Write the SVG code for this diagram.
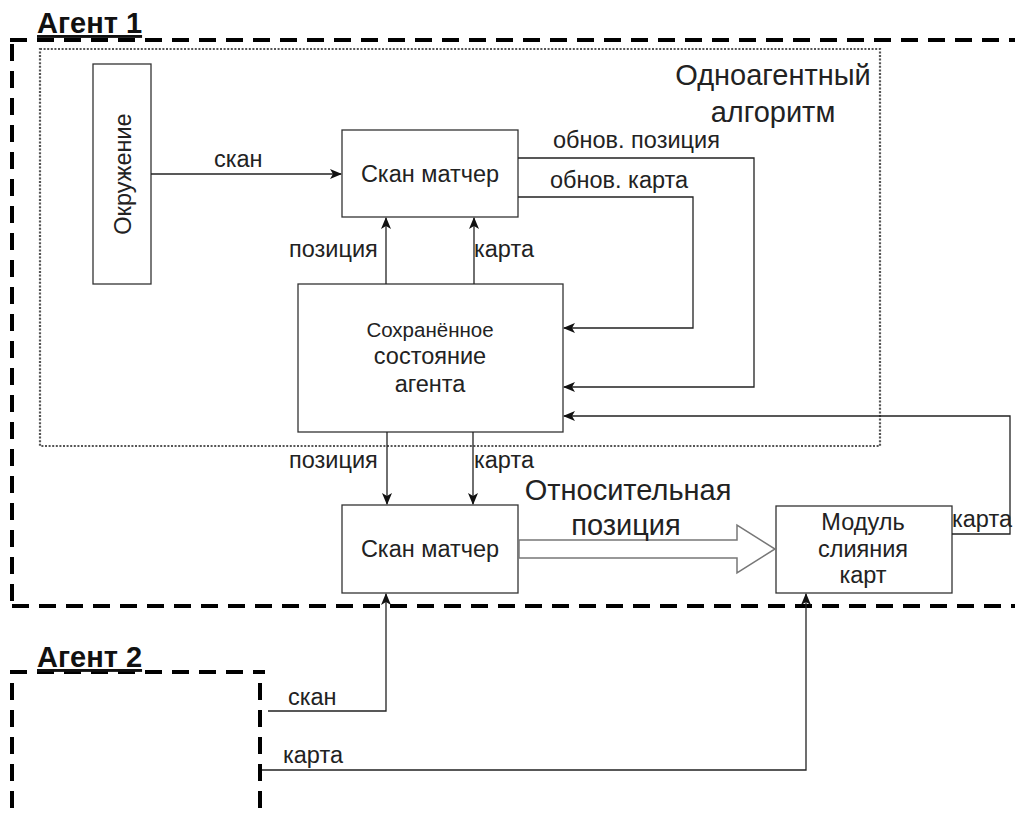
<svg xmlns="http://www.w3.org/2000/svg" width="1015" height="814" viewBox="0 0 1015 814">
<style>
text{font-family:"Liberation Sans",Arial,sans-serif;fill:#222;}
.t{font-size:23.5px;}
.n{font-size:23.5px;text-anchor:middle;}
.s{font-size:20.5px;text-anchor:middle;}
.big{font-size:29px;text-anchor:middle;}
.ag{font-size:29px;font-weight:bold;text-decoration:underline;fill:#111;}
.box{fill:#fff;stroke:#333;stroke-width:1.3;}
.ln{fill:none;stroke:#222;stroke-width:1.3;}
.dash{fill:none;stroke:#000;stroke-width:4;stroke-dasharray:17 10;}
.dot{fill:none;stroke:#555;stroke-width:2.2;stroke-dasharray:2 1.6;}
</style>
<defs>
<marker id="ah" markerWidth="12" markerHeight="10" refX="11" refY="5" orient="auto" markerUnits="userSpaceOnUse">
<path d="M0,0 L12,5 L0,10 L3,5 z" fill="#111"/>
</marker>
</defs>
<g id="agent1">
<path class="dash" d="M10,40 H1015 M12,44 V606 M12,606 H1015"/>
<text class="ag" x="37" y="33">Агент 1</text>
</g>
<g id="single-agent">
<rect class="dot" x="40" y="49" width="840" height="397"/>
<text class="big" x="773" y="85">Одноагентный</text>
<text class="big" x="773" y="122">алгоритм</text>
</g>
<g id="agent2">
<path class="dash" d="M10,672 H265 M12,683 V814 M260,683 V814"/>
<text class="ag" x="37" y="667">Агент 2</text>
</g>
<g id="env">
<rect class="box" x="93" y="64" width="58" height="220"/>
<text class="n" transform="translate(131,174) rotate(-90)">Окружение</text>
</g>
<g id="scan1">
<rect class="box" x="342" y="130" width="176" height="87"/>
<text class="n" x="430" y="182">Скан матчер</text>
</g>
<g id="state">
<rect class="box" x="298" y="284" width="265" height="148"/>
<text class="s" x="430" y="337">Сохранённое</text>
<text class="n" x="430" y="364">состояние</text>
<text class="n" x="430" y="392">агента</text>
</g>
<g id="scan2">
<rect class="box" x="342" y="505" width="176" height="88"/>
<text class="n" x="430" y="557">Скан матчер</text>
</g>
<g id="merge">
<rect class="box" x="776" y="506" width="176" height="87"/>
<text class="n" x="863" y="530">Модуль</text>
<text class="n" x="863" y="557">слияния</text>
<text class="n" x="863" y="583">карт</text>
</g>
<g id="connectors">
<path class="ln" d="M151,174 H341" marker-end="url(#ah)"/>
<text class="t" x="214" y="167">скан</text>
<path class="ln" d="M386,284 V218" marker-end="url(#ah)"/>
<text class="t" x="289" y="257">позиция</text>
<path class="ln" d="M474,284 V218" marker-end="url(#ah)"/>
<text class="t" x="474" y="257">карта</text>
<path class="ln" d="M518,158 H754 V387 H564" marker-end="url(#ah)"/>
<text class="t" x="553" y="148">обнов. позиция</text>
<path class="ln" d="M518,197 H693 V328 H564" marker-end="url(#ah)"/>
<text class="t" x="550" y="188">обнов. карта</text>
<path class="ln" d="M952,534 H1010 V416 H564" marker-end="url(#ah)"/>
<text class="t" x="952" y="527">карта</text>
<path class="ln" d="M387,432 V504" marker-end="url(#ah)"/>
<text class="t" x="289" y="468">позиция</text>
<path class="ln" d="M473,432 V504" marker-end="url(#ah)"/>
<text class="t" x="474" y="468">карта</text>
<polygon points="519,540 737,540 737,525 775,549 737,573 737,558 519,558" fill="#fff" stroke="#777" stroke-width="1.5"/>
<text class="big" x="628" y="500">Относительная</text>
<text class="big" x="626" y="535">позиция</text>
<path class="ln" d="M268,711 H386 V594" marker-end="url(#ah)"/>
<text class="t" x="288" y="705">скан</text>
<path class="ln" d="M262,770 H806 V594" marker-end="url(#ah)"/>
<text class="t" x="283" y="763">карта</text>
</g>
</svg>
